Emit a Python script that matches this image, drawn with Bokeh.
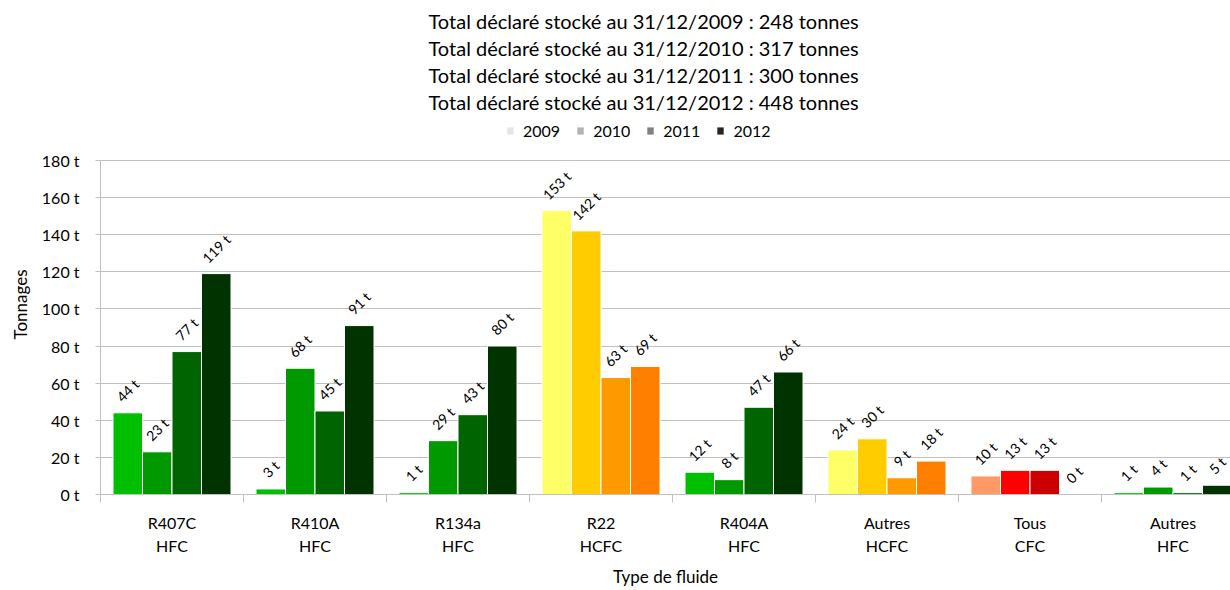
import math
from bokeh.plotting import figure
from bokeh.models import ColumnDataSource, FixedTicker, Range1d, Legend, LegendItem, Title
from bokeh.core.properties import value
from bokeh.embed import file_html
from bokeh.resources import INLINE

# ---------------- data ----------------
categories = ["R407C\nHFC", "R410A\nHFC", "R134a\nHFC", "R22\nHCFC",
              "R404A\nHFC", "Autres\nHCFC", "Tous\nCFC", "Autres\nHFC"]
families = ["HFC", "HFC", "HFC", "HCFC", "HFC", "HCFC", "CFC", "HFC"]
years = ["2009", "2010", "2011", "2012"]
v2009 = [44, 3, 1, 153, 12, 24, 10, 1]
v2010 = [23, 68, 29, 142, 8, 30, 13, 4]
v2011 = [77, 45, 43, 63, 47, 9, 13, 1]
v2012 = [119, 91, 80, 69, 66, 18, 0, 5]
totals = [248, 317, 300, 448]
y_ticks = [0, 20, 40, 60, 80, 100, 120, 140, 160, 180]

family_colors = {
    "HFC": ["#00bf00", "#009900", "#006400", "#003300"],
    "HCFC": ["#ffff66", "#ffcc00", "#ff9900", "#ff8000"],
    "CFC": ["#ff9966", "#ff0000", "#cc0000", "#990000"],
}
legend_colors = ["#e6e6e6", "#b3b3b3", "#808080", "#262626"]

FONT = "Lato"
GRID = "#c0c0c0"
TXT = "#000000"

# ---------------- layout ----------------
W, H = 1230, 590
FL, FT, FB = 100, 114, 495     # frame extends up to include the legend row
AXIS_TOP = 160                 # pixel row of the 180 t gridline
CAT_PX = 143.0
x_start = -0.5
x_end = x_start + (W - FL) / CAT_PX
Y_MAX = 180
y_end = Y_MAX * (FB - FT) / (FB - AXIS_TOP)

p = figure(width=W, height=H, output_backend="svg", toolbar_location=None,
           x_range=Range1d(x_start, x_end), y_range=Range1d(0, y_end),
           min_border_left=FL, min_border_right=0, min_border_top=FT,
           min_border_bottom=H - FB)
p.outline_line_color = None
p.background_fill_color = "white"
p.border_fill_color = "white"

# bars
series = [v2009, v2010, v2011, v2012]
bw = 29.5 / CAT_PX
xs, tops, cols, labs, yoffs = [], [], [], [], []
for j, vals in enumerate(series):
    for i, v in enumerate(vals):
        xs.append(i + (j - 1.5) * bw)
        tops.append(v)
        cols.append(family_colors[families[i]][j])
        t = f"{v} t"
        labs.append(t)
        w = len(t) * 7.2
        yoffs.append(-(8 + 0.3536 * (w + 12)))
src = ColumnDataSource(dict(x=xs, top=tops, color=cols, lab=labs, yoff=yoffs))

p.vbar(x="x", top="top", width=bw, bottom=0, fill_color="color",
       line_color="white", line_width=1, source=src)
p.text(x="x", y="top", text="lab", angle=math.pi / 4, y_offset="yoff",
       text_align="center", text_baseline="middle", text_font=value(FONT),
       text_font_size="14px", text_color=TXT, source=src)

# grid / axes
p.xgrid.visible = False
p.ygrid.ticker = FixedTicker(ticks=y_ticks)
p.ygrid.grid_line_color = GRID
p.ygrid.grid_line_width = 1

p.yaxis.ticker = FixedTicker(ticks=y_ticks)
p.yaxis.bounds = (0, Y_MAX)
p.yaxis.major_label_overrides = {t: f"{t} t" for t in y_ticks}
p.yaxis.major_tick_in = 0
p.yaxis.major_tick_out = 5
p.yaxis.minor_tick_line_color = None
p.yaxis.axis_line_color = GRID
p.yaxis.major_tick_line_color = GRID
p.yaxis.major_label_standoff = 16
p.yaxis.major_label_text_font = FONT
p.yaxis.major_label_text_font_size = "16px"
p.yaxis.major_label_text_color = TXT
p.yaxis.axis_label = "Tonnages"
p.yaxis.axis_label_text_font = FONT
p.yaxis.axis_label_text_font_size = "17px"
p.yaxis.axis_label_text_font_style = "normal"
p.yaxis.axis_label_text_color = TXT
p.yaxis.axis_label_standoff = 8

p.xaxis.ticker = FixedTicker(ticks=list(range(len(categories))),
                             minor_ticks=[k - 0.5 for k in range(len(categories) + 1)])
p.xaxis.major_label_overrides = {i: c for i, c in enumerate(categories)}
p.xaxis.major_tick_in = 0
p.xaxis.major_tick_out = 0
p.xaxis.minor_tick_in = 0
p.xaxis.minor_tick_out = 8
p.xaxis.minor_tick_line_color = GRID
p.xaxis.axis_line_color = GRID
p.xaxis.major_label_standoff = 10
p.xaxis.major_label_text_font = FONT
p.xaxis.major_label_text_font_size = "16px"
p.xaxis.major_label_text_line_height = 1.25
p.xaxis.major_label_text_color = TXT
p.xaxis.axis_label = "Type de fluide"
p.xaxis.axis_label_text_font = FONT
p.xaxis.axis_label_text_font_size = "17px"
p.xaxis.axis_label_text_font_style = "normal"
p.xaxis.axis_label_text_color = TXT
p.xaxis.axis_label_standoff = 8

# legend (grey year swatches), inside the extended frame
nan = float("nan")
items = []
for yr, c in zip(years, legend_colors):
    r = p.vbar(x=[nan], top=[nan], width=0.1, fill_color=c, line_color=None)
    items.append(LegendItem(label=yr, renderers=[r]))
legend = Legend(items=items, orientation="horizontal", location=(406, FB - 141),
                glyph_width=8, glyph_height=9, label_standoff=9, spacing=16,
                padding=0, margin=0, border_line_alpha=0, background_fill_alpha=0,
                label_text_font=FONT, label_text_font_size="16px", label_text_color=TXT,
                label_height=16)
p.add_layout(legend)

# title lines (added bottom-up)
for yr, tot in reversed(list(zip(years, totals))):
    p.add_layout(Title(text=f"Total déclaré stocké au 31/12/{yr} : {tot} tonnes",
                       align="left", text_font=FONT, text_font_size="20px",
                       text_font_style="normal", text_color=TXT, standoff=1,
                       offset=328), "above")

open("out.html", "w").write(file_html(p, INLINE))
